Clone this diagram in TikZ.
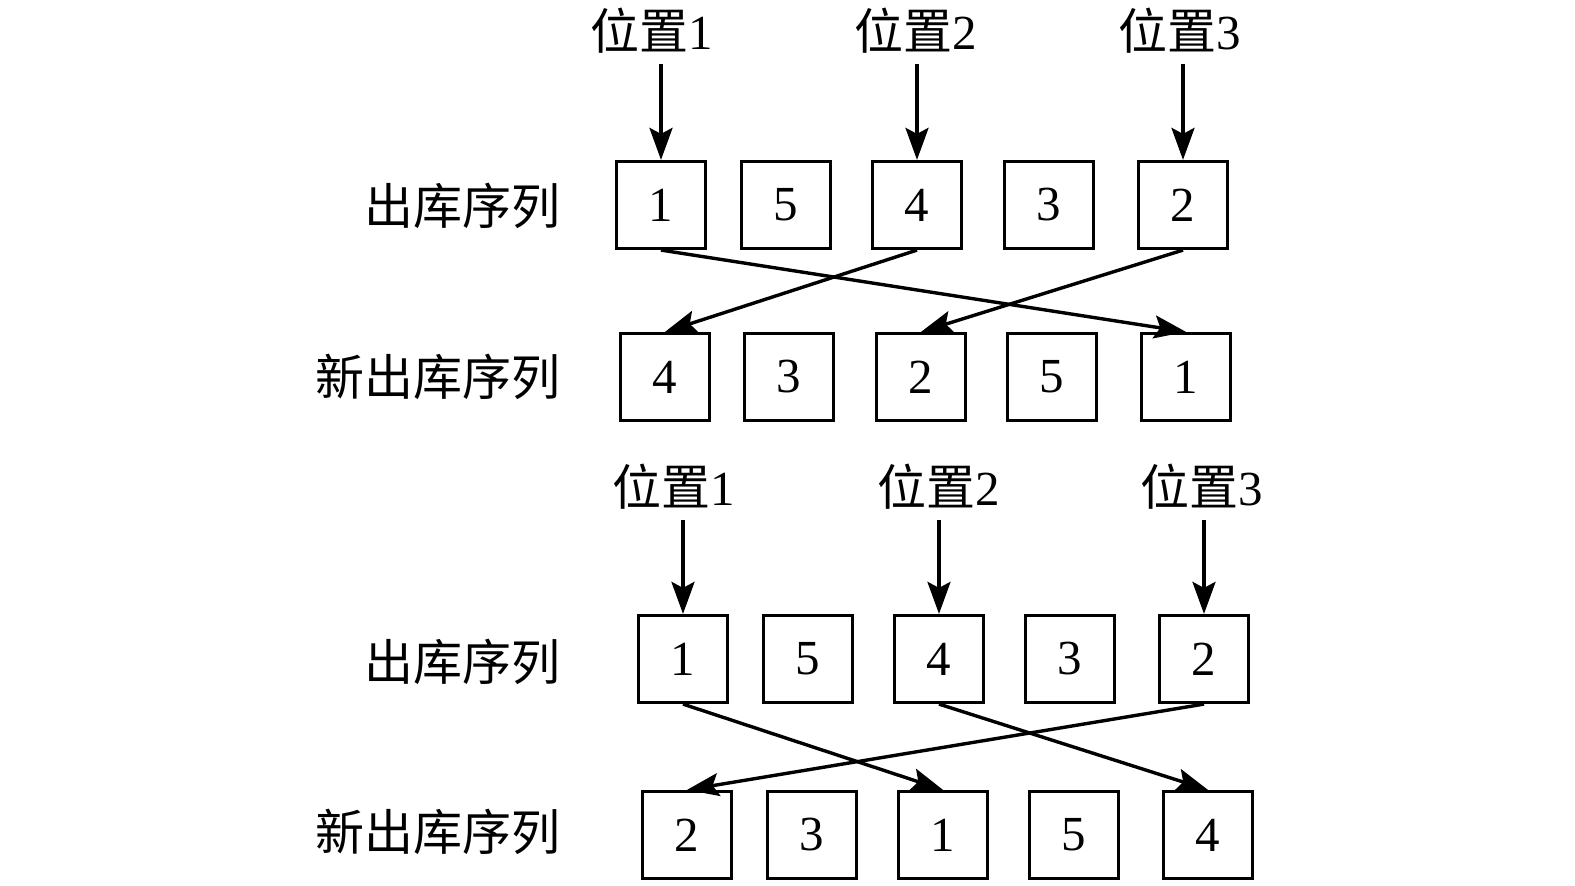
\documentclass[tikz,border=0pt]{standalone}
\usepackage{fontspec}
\setmainfont{Liberation Serif}
\newfontfamily\cjk{Noto Sans CJK SC}
\usetikzlibrary{arrows.meta, positioning}

\begin{document}
\begin{tikzpicture}[
    x=0.5pt, y=-0.5pt,
    box/.style={rectangle, draw, line width=1.6pt, minimum width=44.5pt, minimum height=43.5pt, inner sep=0pt, font=\fontsize{24.5}{29}\selectfont},
    rowname/.style={anchor=east, inner sep=0pt, font=\fontsize{24.5}{29}\selectfont\cjk},
    posname/.style={inner xsep=0pt, inner ysep=5pt, font=\fontsize{24.5}{29}\selectfont},
    line/.style={draw, line width=1.7pt, -{Stealth[length=16pt, width=11.5pt, inset=3pt]}}
]
\useasboundingbox (0,0) rectangle (1575,886);

% Upper part
\foreach \v/\x [count=\i] in {1/661, 5/786, 4/917, 3/1049, 2/1183}
    \node[box] (outA\i) at (\x,205) {\v};
\foreach \v/\x [count=\i] in {4/665, 3/789, 2/921, 5/1052, 1/1186}
    \node[box] (newA\i) at (\x,377) {\v};
\node[rowname] (nameA) at (561,206) {出库序列};
\node[rowname] (newnameA) at (561,377) {新出库序列};
\node[posname] (posA1) at (652,31) {{\cjk 位置}1};
\node[posname] (posA2) at (916,31) {{\cjk 位置}2};
\node[posname] (posA3) at (1180,31) {{\cjk 位置}3};

\path[line] (posA1.south -| outA1.north) -- (outA1.north);
\path[line] (posA2.south -| outA3.north) -- (outA3.north);
\path[line] (posA3.south -| outA5.north) -- (outA5.north);
\path[line] (outA1.south) -- (newA5.north);
\path[line] (outA3.south) -- (newA1.north);
\path[line] (outA5.south) -- (newA3.north);

% Lower part
\foreach \v/\x [count=\i] in {1/683, 5/808, 4/939, 3/1070, 2/1204}
    \node[box] (outB\i) at (\x,659) {\v};
\foreach \v/\x [count=\i] in {2/687, 3/812, 1/943, 5/1074, 4/1208}
    \node[box] (newB\i) at (\x,835) {\v};
\node[rowname] (nameB) at (561,662) {出库序列};
\node[rowname] (newnameB) at (561,832) {新出库序列};
\node[posname] (posB1) at (674,487) {{\cjk 位置}1};
\node[posname] (posB2) at (939,487) {{\cjk 位置}2};
\node[posname] (posB3) at (1202,487) {{\cjk 位置}3};

\path[line] (posB1.south -| outB1.north) -- (outB1.north);
\path[line] (posB2.south -| outB3.north) -- (outB3.north);
\path[line] (posB3.south -| outB5.north) -- (outB5.north);
\path[line] (outB1.south) -- (newB3.north);
\path[line] (outB3.south) -- (newB5.north);
\path[line] (outB5.south) -- (newB1.north);

\end{tikzpicture}
\end{document}
